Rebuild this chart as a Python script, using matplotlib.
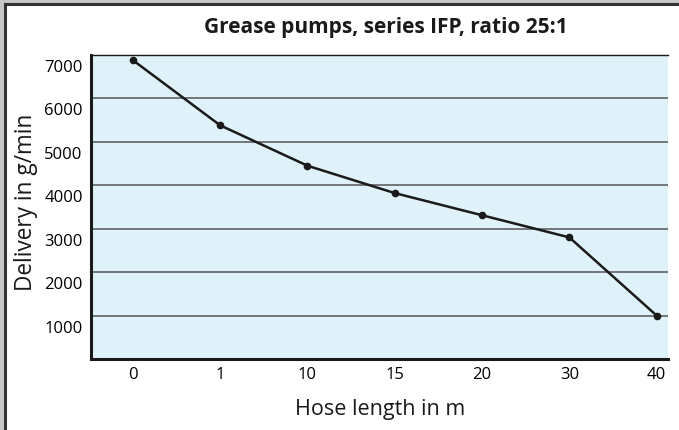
import matplotlib.pyplot as plt
import matplotlib.transforms as mtrans
from matplotlib.patches import Rectangle
import numpy as np

hose_length = ['0', '1', '10', '15', '20', '30', '40']
delivery = [6880, 5380, 4450, 3820, 3310, 2800, 1000]
y_ticks = [1000, 2000, 3000, 4000, 5000, 6000, 7000]

plt.rcParams['font.family'] = ['Open Sans', 'DejaVu Sans']

fig = plt.figure(figsize=(6.79, 4.30), dpi=100, facecolor='#c8c8c8')
# white panel with dark frame (only top/left edges visible)
fig.patches.append(Rectangle((4.5/679, -0.1), 1.2, (430-3.5)/430 + 0.1,
                             transform=fig.transFigure, facecolor='white',
                             edgecolor='#333333', lw=2.2, zorder=-5))

ax = fig.add_axes([91/679, 71/430, 577/679, 304/430])
ax.set_facecolor('#dff1f9')
x = np.arange(len(hose_length))
ax.plot(x, delivery, '-o', color='#1a1a1a', lw=1.8, ms=4.5, zorder=3, clip_on=False)

ax.set_xlim(-0.48, 6.13)
ax.set_ylim(0, 7000)
ax.set_xticks(x)
ax.set_xticklabels(hose_length, fontsize=12)
ax.set_yticks(y_ticks)
ax.set_yticklabels([str(v) for v in y_ticks], fontsize=12)
ax.tick_params(length=0, pad=6)
# labels sit a bit below their gridlines
off = mtrans.ScaledTranslation(0, -11/100, fig.dpi_scale_trans)
for lab in ax.get_yticklabels():
    lab.set_transform(lab.get_transform() + off)

for v in y_ticks[:-1]:
    ax.axhline(v, color='#555555', lw=1.1, zorder=1)

ax.spines['right'].set_visible(False)
ax.spines['left'].set_linewidth(2.2)
ax.spines['bottom'].set_linewidth(2.2)
ax.spines['top'].set_linewidth(1.0)
ax.spines['left'].set_color('#1a1a1a')
ax.spines['bottom'].set_color('#1a1a1a')
ax.spines['top'].set_color('#1a1a1a')

fig.text(380/679, 1 - 410/430, 'Hose length in m', ha='center', va='center',
         fontsize=15.5, color='#1a1a1a')
fig.text(26/679, 1 - 202/430, 'Delivery in g/min', ha='center', va='center',
         rotation=90, fontsize=16.3, color='#1a1a1a')
fig.text(386/679, 1 - 27/430, 'Grease pumps, series IFP, ratio 25:1',
         ha='center', va='center', fontsize=15, fontweight='bold', color='#1a1a1a')

fig.savefig('out.png', dpi=100, facecolor=fig.get_facecolor())
